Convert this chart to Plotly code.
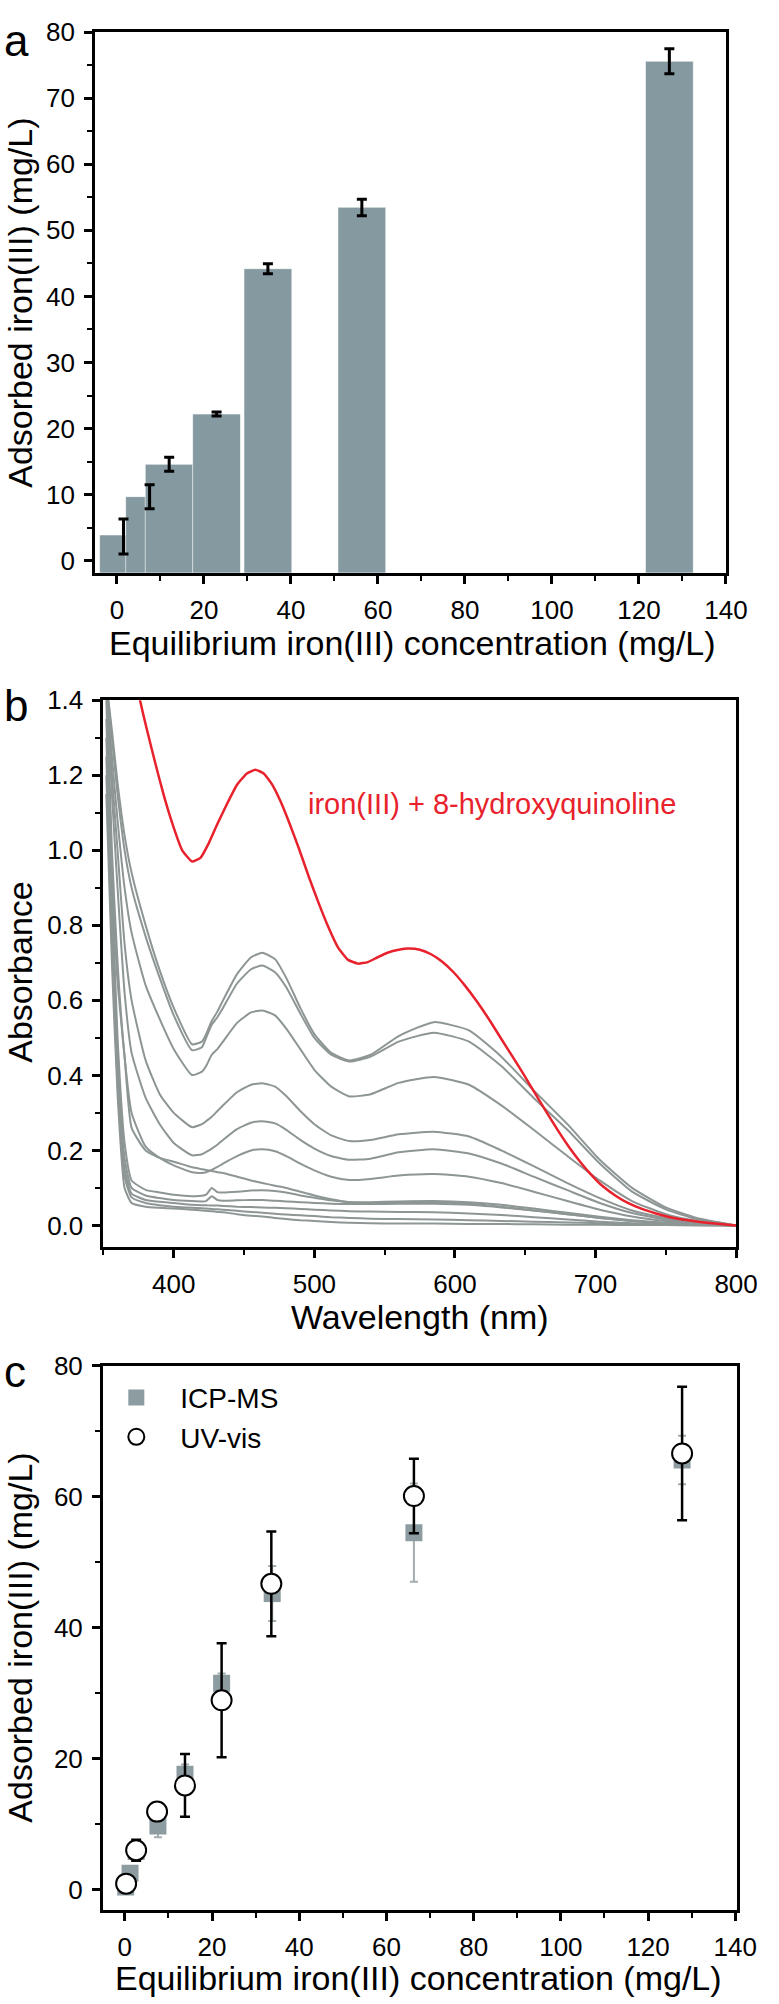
import plotly.graph_objects as go

W, H = 779, 2004
FONT = "Liberation Sans, Arial, Helvetica, sans-serif"

# ---------------- Panel a : bar chart ----------------
conc_a = [1.5, 7.5, 12.0, 22.9, 34.7, 56.3, 127.0]
ads_a = [3.9, 9.7, 14.6, 22.2, 44.2, 53.5, 75.6]
err_a_plus = [2.4, 1.8, 1.05, 0.3, 0.75, 1.2, 1.9]
err_a_minus = [2.9, 1.85, 1.05, 0.3, 0.75, 1.3, 1.9]

# ---------------- Panel b : UV-vis spectra ----------------
wl = [352, 356, 360, 365, 370, 380, 390, 400, 413, 420, 423, 427, 431, 435, 445, 455, 463,
      472, 480, 490, 500, 512, 525, 540, 560, 585, 610, 633, 656, 680, 703, 726, 750, 772, 800]
abs_g1 = [1.45, 1.32, 1.18, 1.04, 0.94, 0.80, 0.68, 0.58, 0.483, 0.49, 0.51, 0.545, 0.57, 0.60, 0.67, 0.715, 0.727,
          0.71, 0.66, 0.58, 0.51, 0.46, 0.44, 0.455, 0.505, 0.542, 0.52, 0.45, 0.36, 0.27, 0.175, 0.10, 0.048, 0.02, 0.0]
abs_g2 = [1.45, 1.30, 1.15, 1.00, 0.90, 0.77, 0.66, 0.56, 0.467, 0.475, 0.50, 0.535, 0.555, 0.58, 0.645, 0.683, 0.693,
          0.675, 0.635, 0.565, 0.50, 0.455, 0.437, 0.45, 0.49, 0.514, 0.49, 0.425, 0.34, 0.255, 0.165, 0.09, 0.043, 0.017, 0.0]
abs_g3 = [1.45, 1.25, 1.08, 0.90, 0.78, 0.64, 0.55, 0.47, 0.401, 0.41, 0.425, 0.455, 0.47, 0.49, 0.54, 0.568, 0.573,
          0.56, 0.525, 0.47, 0.415, 0.37, 0.344, 0.35, 0.38, 0.396, 0.375, 0.32, 0.255, 0.185, 0.12, 0.065, 0.03, 0.012, 0.0]
abs_g4 = [1.45, 1.20, 1.00, 0.75, 0.60, 0.44, 0.35, 0.30, 0.262, 0.27, 0.278, 0.29, 0.305, 0.32, 0.355, 0.375, 0.379,
          0.37, 0.345, 0.305, 0.27, 0.24, 0.225, 0.228, 0.243, 0.25, 0.237, 0.20, 0.158, 0.113, 0.073, 0.04, 0.02, 0.008, 0.0]
abs_g5 = [1.45, 1.15, 0.90, 0.62, 0.46, 0.34, 0.27, 0.22, 0.187, 0.19, 0.196, 0.205, 0.215, 0.228, 0.257, 0.274, 0.278,
          0.272, 0.255, 0.228, 0.205, 0.185, 0.175, 0.178, 0.195, 0.203, 0.192, 0.165, 0.13, 0.094, 0.06, 0.033, 0.016, 0.006, 0.0]
abs_g6 = [1.45, 1.00, 0.70, 0.45, 0.30, 0.21, 0.18, 0.16, 0.142, 0.14, 0.142, 0.148, 0.156, 0.165, 0.185, 0.20, 0.203,
          0.198, 0.185, 0.165, 0.147, 0.13, 0.121, 0.124, 0.133, 0.137, 0.13, 0.113, 0.09, 0.065, 0.042, 0.024, 0.012, 0.005, 0.0]
abs_g7 = [1.40, 0.95, 0.65, 0.45, 0.26, 0.20, 0.18, 0.17, 0.155, 0.15, 0.148, 0.145, 0.142, 0.14, 0.13, 0.12, 0.113,
          0.106, 0.10, 0.09, 0.08, 0.07, 0.062, 0.06, 0.06, 0.062, 0.058, 0.05, 0.04, 0.03, 0.02, 0.012, 0.006, 0.003, 0.0]
abs_g8 = [1.35, 0.90, 0.50, 0.22, 0.12, 0.095, 0.088, 0.082, 0.078, 0.079, 0.082, 0.10, 0.089, 0.088, 0.09, 0.093, 0.094,
          0.092, 0.088, 0.08, 0.074, 0.067, 0.062, 0.062, 0.064, 0.065, 0.062, 0.055, 0.045, 0.034, 0.023, 0.014, 0.007, 0.003, 0.0]
abs_g9 = [1.30, 0.85, 0.45, 0.18, 0.10, 0.08, 0.073, 0.068, 0.065, 0.064, 0.065, 0.078, 0.068, 0.066, 0.067, 0.068, 0.068,
          0.066, 0.064, 0.062, 0.06, 0.058, 0.057, 0.057, 0.058, 0.058, 0.055, 0.048, 0.04, 0.03, 0.02, 0.012, 0.006, 0.003, 0.0]
abs_g10 = [1.25, 0.80, 0.40, 0.15, 0.085, 0.068, 0.063, 0.06, 0.055, 0.054, 0.054, 0.053, 0.053, 0.052, 0.05, 0.049, 0.048,
           0.047, 0.046, 0.044, 0.042, 0.04, 0.038, 0.037, 0.036, 0.035, 0.032, 0.028, 0.022, 0.016, 0.01, 0.006, 0.003, 0.001, 0.0]
abs_g11 = [1.20, 0.75, 0.38, 0.13, 0.075, 0.06, 0.054, 0.05, 0.047, 0.046, 0.045, 0.044, 0.043, 0.042, 0.039, 0.036, 0.034,
           0.031, 0.029, 0.027, 0.025, 0.022, 0.02, 0.018, 0.017, 0.016, 0.014, 0.012, 0.01, 0.008, 0.006, 0.004, 0.003, 0.001, 0.0]
abs_g12 = [1.15, 0.70, 0.35, 0.10, 0.06, 0.05, 0.047, 0.045, 0.042, 0.04, 0.039, 0.038, 0.036, 0.035, 0.03, 0.026, 0.024,
           0.02, 0.017, 0.014, 0.012, 0.009, 0.007, 0.006, 0.005, 0.005, 0.004, 0.004, 0.003, 0.002, 0.002, 0.001, 0.001, 0.0, 0.0]

wl_red = [362, 370, 376, 381, 387, 393, 400, 406, 413, 419, 425, 431, 438, 445, 452, 458, 464, 470, 476, 482,
          489, 496, 503, 510, 517, 524, 531, 538, 545, 552, 560, 567, 575, 583, 591, 599, 607, 616, 625, 633,
          641, 649, 657, 665, 673, 681, 689, 697, 705, 714, 723, 733, 743, 753, 763, 773, 785, 800]
abs_red = [1.72, 1.52, 1.40, 1.32, 1.23, 1.145, 1.06, 1.00, 0.97, 0.98, 1.02, 1.07, 1.125, 1.175, 1.205, 1.215, 1.205, 1.175, 1.13, 1.075,
           1.005, 0.93, 0.86, 0.795, 0.74, 0.708, 0.698, 0.702, 0.715, 0.727, 0.735, 0.738, 0.735, 0.723, 0.703, 0.675, 0.64, 0.595, 0.545, 0.497,
           0.45, 0.402, 0.352, 0.303, 0.255, 0.21, 0.17, 0.135, 0.105, 0.08, 0.06, 0.044, 0.032, 0.022, 0.015, 0.01, 0.005, 0.0]

# ---------------- Panel c : ICP-MS vs UV-vis ----------------
conc_icp = [0.2, 1.2, 2.6, 7.6, 13.8, 22.2, 33.8, 66.3, 127.8]
ads_icp = [0.4, 2.5, 5.8, 9.7, 17.6, 31.5, 45.2, 54.5, 65.6]
err_icp = [0.5, 0.8, 0.7, 1.7, 1.5, 1.5, 4.2, 7.5, 3.7]
conc_uv = [0.3, 2.6, 7.4, 13.8, 22.2, 33.6, 66.3, 127.8]
ads_uv = [0.9, 6.0, 11.9, 15.9, 28.9, 46.7, 60.1, 66.6]
err_uv = [0.7, 1.6, 1.1, 4.8, 8.7, 8.0, 5.7, 10.2]

BAR = "#8599a0"
GRAY = "#8d9595"
RED = "#e8222c"
SQ = "#8d9ca1"


def px(x):
    return x / W


def py(y):
    return 1 - y / H


fig = go.Figure()

# panel a
ybase_a = -1.85
fig.add_trace(go.Bar(
    x=conc_a, y=[v - ybase_a for v in ads_a], base=ybase_a, width=11,
    marker=dict(color=BAR, line=dict(color="rgba(255,255,255,0.6)", width=1)),
    error_y=dict(type="data", symmetric=False, array=err_a_plus, arrayminus=err_a_minus,
                 color="black", thickness=3, width=5),
    xaxis="x", yaxis="y", showlegend=False))

# panel b
for g in [abs_g1, abs_g2, abs_g3, abs_g4, abs_g5, abs_g6, abs_g7, abs_g8, abs_g9, abs_g10, abs_g11, abs_g12]:
    fig.add_trace(go.Scatter(x=wl, y=g, mode="lines", line=dict(color=GRAY, width=2, shape="spline", smoothing=0.5),
                             xaxis="x2", yaxis="y2", showlegend=False))
fig.add_trace(go.Scatter(x=wl_red, y=abs_red, mode="lines", line=dict(color=RED, width=2.5, shape="spline", smoothing=0.4),
                         xaxis="x2", yaxis="y2", showlegend=False))

# panel c
fig.add_trace(go.Scatter(
    x=conc_icp, y=ads_icp, mode="markers", name="ICP-MS",
    marker=dict(symbol="square", size=17, color=SQ, line=dict(width=0)),
    error_y=dict(type="data", array=err_icp, color="#a3acaf", thickness=2, width=4),
    xaxis="x3", yaxis="y3"))
fig.add_trace(go.Scatter(
    x=conc_uv, y=ads_uv, mode="markers", name="UV-vis",
    marker=dict(symbol="circle", size=20, color="white", line=dict(color="black", width=2)),
    error_y=dict(type="data", array=err_uv, color="black", thickness=2.5, width=5),
    xaxis="x3", yaxis="y3"))

tickfont = dict(family=FONT, size=26, color="black")
common = dict(showgrid=False, zeroline=False, showline=True, linecolor="black", linewidth=3, mirror=True,
              ticks="outside", ticklen=8, tickwidth=2.5, tickcolor="black", tickfont=tickfont,
              ticklabelstandoff=4)
minor_style = dict(ticks="outside", ticklen=5, tickwidth=2, tickcolor="black")

fig.update_layout(
    width=W, height=H, margin=dict(l=0, r=0, t=0, b=0),
    paper_bgcolor="white", plot_bgcolor="white",
    font=dict(family=FONT, color="black"),
    xaxis=dict(domain=[px(98), px(747)], range=[-5, 140], anchor="y", dtick=20, tick0=0,
               minor=dict(dtick=10, **minor_style), **common),
    yaxis=dict(domain=[py(563), py(17.3)], range=[ybase_a, 80], anchor="x", dtick=10, tick0=0,
               minor=dict(dtick=5, **minor_style), **common),
    xaxis2=dict(domain=[px(106.5), px(757.5)], range=[350, 800], anchor="y2", dtick=100, tick0=0,
                minor=dict(dtick=50, **minor_style), **common),
    yaxis2=dict(domain=[py(1243), py(691.5)], range=[-0.057, 1.4], anchor="x2", dtick=0.2, tick0=0, tickformat=".1f",
                minor=dict(dtick=0.1, **minor_style), **common),
    xaxis3=dict(domain=[px(106), px(758)], range=[-5, 140.3], anchor="y3", dtick=20, tick0=0,
                minor=dict(dtick=10, **minor_style), **common),
    yaxis3=dict(domain=[py(1912), py(1363)], range=[-3.1, 80], anchor="x3", dtick=20, tick0=0,
                minor=dict(dtick=10, **minor_style), **common),
    legend=dict(x=px(95), y=py(1370), xanchor="left", yanchor="top", bgcolor="rgba(0,0,0,0)",
                font=dict(family=FONT, size=28, color="black"), itemwidth=78, tracegroupgap=0),
)

ann = []
# panel letters
for letter, yy in [("a", 26), ("b", 697), ("c", 1369)]:
    ann.append(dict(text=letter, x=px(2), y=py(yy), xref="paper", yref="paper", xanchor="left", yanchor="middle",
                    showarrow=False, font=dict(family=FONT, size=44, color="black")))
# axis titles
title_font = dict(family=FONT, size=34, color="black")
ann += [
    dict(text="Adsorbed iron(III) (mg/L)", x=px(21), y=py(290), textangle=-90),
    dict(text="Equilibrium iron(III) concentration (mg/L)", x=px(424), y=py(634)),
    dict(text="Absorbance", x=px(21), y=py(966), textangle=-90),
    dict(text="Wavelength (nm)", x=px(432), y=py(1314)),
    dict(text="Adsorbed iron(III) (mg/L)", x=px(21), y=py(1637), textangle=-90),
    dict(text="Equilibrium iron(III) concentration (mg/L)", x=px(431), y=py(1981)),
]
for a in ann[3:]:
    a.update(xref="paper", yref="paper", xanchor="center", yanchor="middle", showarrow=False, font=title_font)
ann.append(dict(text="iron(III) + 8-hydroxyquinoline", x=px(315), y=py(796), xref="paper", yref="paper",
                xanchor="left", yanchor="middle", showarrow=False, font=dict(family=FONT, size=29, color=RED)))
fig.update_layout(annotations=ann)

fig.write_html("out.html", config={"displayModeBar": False},
               post_script="document.body.style.margin='0';document.body.style.overflow='hidden';")
